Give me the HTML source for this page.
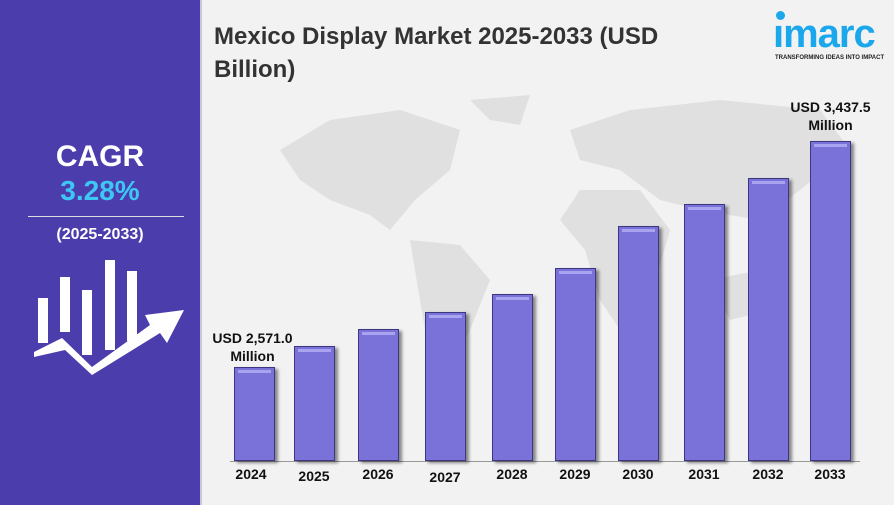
<!DOCTYPE html>
<html><head><style>
body{margin:0;width:894px;height:505px;overflow:hidden;background:#f2f2f2;font-family:"Liberation Sans",sans-serif;position:relative}
.left{position:absolute;left:0;top:0;width:200px;height:505px;background:#4b3dab;border-right:2px solid #c8c8d8}
.t{position:absolute;width:200px;text-align:center;font-weight:bold}
.bar{position:absolute;width:41px;background:#7b72d9;border:1px solid #3d3680;box-shadow:3px 2px 3px rgba(0,0,0,.45);box-sizing:border-box}
.bar:before{content:"";position:absolute;left:3px;right:3px;top:2px;height:3px;background:#a9a3f0}
.yl{position:absolute;top:466px;width:60px;text-align:center;font-weight:bold;font-size:14px;color:#111}
.lab{position:absolute;font-weight:bold;font-size:14px;color:#111;text-align:center;line-height:18px}
</style></head><body>
<svg style="position:absolute;left:200px;top:0" width="694" height="505">
<g fill="#e0e0e0">
<path d="M80 150 L130 120 L200 110 L260 130 L250 170 L215 200 L190 230 L170 215 L130 200 L100 180Z"/>
<path d="M210 240 L260 245 L290 280 L270 330 L245 380 L230 360 L220 300Z"/>
<path d="M270 100 L330 95 L320 125 L290 120Z"/>
<path d="M370 130 L430 110 L520 100 L620 110 L650 150 L600 190 L560 220 L500 210 L460 200 L420 170 L380 160Z"/>
<path d="M380 190 L440 190 L470 230 L450 300 L420 330 L400 300 L385 250 L360 220Z"/>
<path d="M510 280 L560 270 L570 310 L530 320Z"/>
</g></svg>
<div class="left">
<div class="t" style="top:140px;font-size:30px;color:#fff">CAGR</div>
<div class="t" style="top:175px;font-size:28px;color:#3ec6f5">3.28%</div>
<div style="position:absolute;left:28px;top:216px;width:156px;height:1px;background:#ddd"></div>
<div class="t" style="top:226px;font-size:16px;color:#fff">(2025-2033)</div>
<svg style="position:absolute;left:30px;top:255px" width="160" height="125">
<g fill="#fff">
<rect x="8" y="43" width="10" height="45"/><rect x="30" y="22" width="10" height="55"/>
<rect x="52" y="35" width="10" height="65"/><rect x="75" y="5" width="10" height="90"/>
<rect x="97" y="16" width="10" height="70"/>
<path d="M4 97 L32 83 L62 112 L120 70 L115 60 L154 55 L137 88 L130 78 L62 120 L35 95 L4 102Z"/>
</g></svg>
</div>
<div style="position:absolute;left:214px;top:20px;font-size:24px;font-weight:bold;color:#333;line-height:33px">Mexico Display Market 2025-2033 (USD<br>Billion)</div>
<div style="position:absolute;left:776px;top:11px;width:9px;height:9px;border-radius:50%;background:#1aa7ec"></div>
<div style="position:absolute;left:773px;top:12px;font-size:40px;font-weight:bold;color:#1aa7ec;letter-spacing:-1px">ımarc</div>
<div style="position:absolute;left:775px;top:55px;font-size:6px;font-weight:bold;color:#222;white-space:nowrap">TRANSFORMING IDEAS INTO IMPACT</div>
<div style="position:absolute;left:230px;top:461px;width:630px;height:1px;background:#999"></div>
<div class="bar" style="left:234px;top:367px;height:94px"></div>
<div class="bar" style="left:294px;top:346px;height:115px"></div>
<div class="bar" style="left:358px;top:329px;height:132px"></div>
<div class="bar" style="left:425px;top:312px;height:149px"></div>
<div class="bar" style="left:492px;top:294px;height:167px"></div>
<div class="bar" style="left:555px;top:268px;height:193px"></div>
<div class="bar" style="left:618px;top:226px;height:235px"></div>
<div class="bar" style="left:684px;top:204px;height:257px"></div>
<div class="bar" style="left:748px;top:178px;height:283px"></div>
<div class="bar" style="left:810px;top:141px;height:320px"></div>
<div class="yl" style="left:221px">2024</div>
<div class="yl" style="left:284px;top:468px">2025</div>
<div class="yl" style="left:348px">2026</div>
<div class="yl" style="left:415px;top:469px">2027</div>
<div class="yl" style="left:482px">2028</div>
<div class="yl" style="left:545px">2029</div>
<div class="yl" style="left:608px">2030</div>
<div class="yl" style="left:674px">2031</div>
<div class="yl" style="left:738px">2032</div>
<div class="yl" style="left:800px">2033</div>
<div class="lab" style="left:205px;top:329px;width:95px">USD 2,571.0<br>Million</div>
<div class="lab" style="left:783px;top:98px;width:95px">USD 3,437.5<br>Million</div>
</body></html>
